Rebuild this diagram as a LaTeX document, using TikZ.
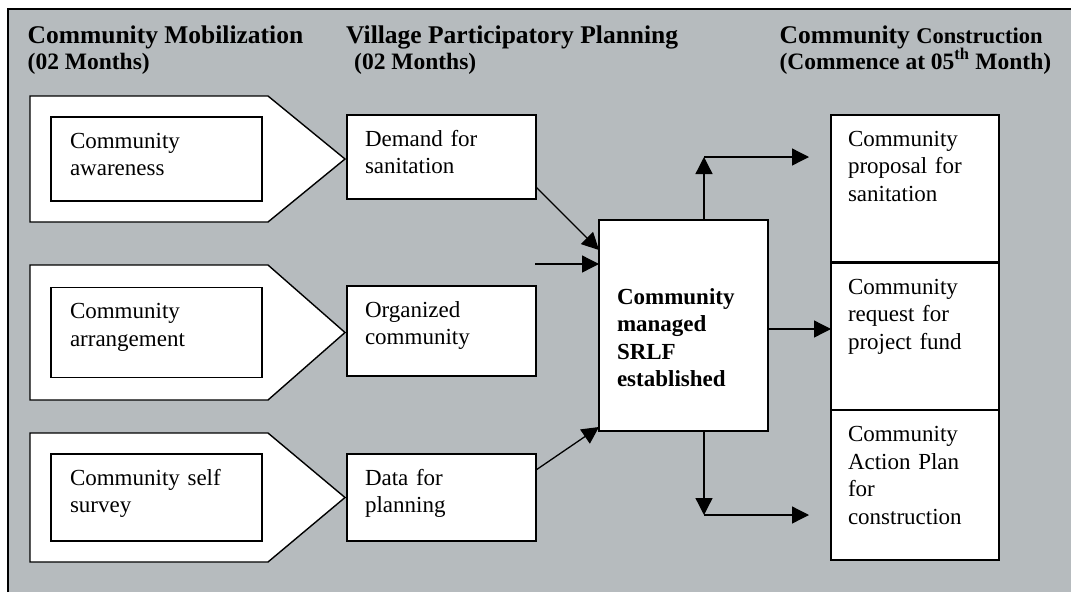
\documentclass[tikz,border=0pt]{standalone}
\usepackage{fontspec}
\setmainfont{Liberation Serif}
\usepackage{tikz}
\usetikzlibrary{arrows.meta}
\definecolor{ink}{RGB}{0,0,0}
\definecolor{panelgray}{RGB}{182,187,190}
\def\PxA{30}
\def\PxB{268}
\def\PxC{345}
\def\IxA{51}
\def\MxA{347}
\def\RxA{831}
\newcommand{\cellfont}{\fontsize{23}{27.5}\selectfont}
\tikzset{
  hdr/.style={
    anchor=base west, inner sep=0pt, text=ink,
    font=\fontsize{25.5}{30}\selectfont\bfseries,
  },
  sub/.style={
    anchor=base west, inner sep=0pt, text=ink,
    font=\fontsize{23.5}{28}\selectfont\bfseries,
  },
  pent/.style={draw=ink, fill=white, line width=1.4pt, line join=miter},
  cell/.style={
    draw=ink, fill=white, line width=1.4pt, anchor=north west,
    outer sep=0pt, inner ysep=0pt, align=left, font=\cellfont,
    text height=31pt, text depth=#1pt-31pt,
  },
  inbox/.style={cell=#1, inner xsep=19pt, text width=173pt},
  midbox/.style={cell=#1, inner xsep=18pt, text width=153pt},
  outbox/.style={cell=#1, inner xsep=17pt, text width=134pt},
  hubbox/.style={
    draw=ink, fill=white, line width=1.4pt, anchor=north west,
    outer sep=0pt, inner xsep=18pt, inner ysep=0pt, text width=133pt,
    align=left, font=\cellfont\bfseries,
    text height=84pt, text depth=#1pt-84pt,
  },
  arr/.style={-{Triangle[length=17pt,width=17pt]}, line width=1.3pt, draw=ink},
}
\begin{document}
\begin{tikzpicture}[x=1pt,y=-1pt]
  \useasboundingbox (0,0) rectangle (1071,592);
  \fill[panelgray] (8,9) rectangle (1071,592);
  \draw[ink, line width=1.5pt] (8,592) -- (8,9) -- (1071,9);

  % column heads
  \node[hdr] (hmob) at (27.5,43) {Community Mobilization};
  \node[sub] (hmobm) at (27.5,69) {(02 Months)};
  \node[hdr] (hvpp) at (346,43) {Village Participatory Planning};
  \node[sub] (hvppm) at (354,69) {(02 Months)};
  \node[hdr] (hcon) at (779.4,43) {Community {\fontsize{22.5}{26}\selectfont Construction}};
  \node[sub] (hconm) at (779.4,69) {(Commence at 05\textsuperscript{th} Month)};

  % row 1
  \draw[pent] (\PxA,96) -- (\PxB,96) -- (\PxC,159) -- (\PxB,222) -- (\PxA,222) -- cycle;
  \node[inbox=84] (aw) at (\IxA,117) {Community\\awareness};
  \node[midbox=84] (dem) at (\MxA,115) {Demand for\\sanitation};

  % row 2
  \draw[pent] (\PxA,265) -- (\PxB,265) -- (\PxC,332.5) -- (\PxB,400) -- (\PxA,400) -- cycle;
  \node[inbox=90] (arr) at (\IxA,287.5) {Community\\arrangement};
  \node[midbox=90] (org) at (\MxA,286) {Organized\\community};

  % row 3
  \draw[pent] (\PxA,433) -- (\PxB,433) -- (\PxC,497.5) -- (\PxB,562) -- (\PxA,562) -- cycle;
  \node[inbox=87] (sv) at (\IxA,454) {Community self\\survey};
  \node[midbox=87] (dat) at (\MxA,454) {Data for\\planning};

  % hub
  \node[hubbox=211] (srlf) at (599,220) {Community\\managed\\SRLF\\established};

  % outputs
  \node[outbox=147] (prop) at (\RxA,115) {Community\\proposal for\\sanitation};
  \node[outbox=147] (req) at (\RxA,263) {Community\\request for\\project fund};
  \node[outbox=149.5] (cap) at (\RxA,410.5) {Community\\Action Plan\\for\\construction};

  \coordinate (feed) at (535,264);
  \coordinate (upk) at (704,157);
  \coordinate (upend) at (809,157);
  \coordinate (dnk) at (704,515);
  \coordinate (dnend) at (809,515);

  \draw[arr] ([yshift=12pt]dem.south east) -- ([yshift=-30pt]srlf.north west);
  \draw[arr] (feed) -- (feed -| srlf.west);
  \draw[arr] ([yshift=-16pt]dat.north east) -- ([yshift=4pt]srlf.south west);
  \draw[arr] (upk |- srlf.north) -- (upk);
  \draw[arr] (upk) -- (upend);
  \draw[arr] ([yshift=-3.5pt]srlf.east) -- ([yshift=-3.5pt]srlf.east -| req.west);
  \draw[arr] (dnk |- srlf.south) -- (dnk);
  \draw[arr] (dnk) -- (dnend);
\end{tikzpicture}
\end{document}
